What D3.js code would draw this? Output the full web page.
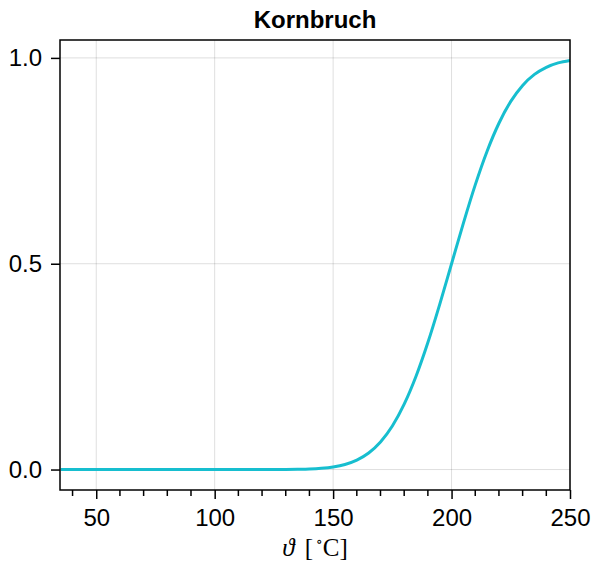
<!DOCTYPE html>
<html><head><meta charset="utf-8">
<script src="https://cdn.jsdelivr.net/npm/d3@7"></script>
<style>body{margin:0;background:#fff}svg{display:block}</style>
</head><body>
<svg id="chart" width="593" height="567"></svg>
<script>
const title = "Kornbruch";
const temps = [35,40,45,50,55,60,65,70,75,80,85,90,95,100,105,110,115,120,125,130,135,140,145,150,155,160,165,170,175,180,185,190,195,200,205,210,215,220,225,230,235,240,245,250];
const fraction = [0,0,0,0,0,0,0,0,0,0,0,0,0,0,0,0,0,0,0.0001,0.0002,0.0006,0.0013,0.003,0.0062,0.0122,0.0228,0.0401,0.0668,0.1056,0.1587,0.2266,0.3085,0.4013,0.5,0.5987,0.6915,0.7734,0.8413,0.8944,0.9332,0.9599,0.9772,0.9878,0.9938];
const xTicks = [50,100,150,200,250];
const xMinorTicks = [40,60,70,80,90,110,120,130,140,160,170,180,190,210,220,230,240];
const yTicks = [0.0,0.5,1.0];

const svg = d3.select("#chart");
const L = 60, R = 570, T = 40, B = 490;
const x = d3.scaleLinear().domain([34.7, 250]).range([L, R]);
const y = d3.scaleLinear().domain([-0.0497, 1.0435]).range([B, T]);
const font = "'Liberation Sans', Arial, Helvetica, sans-serif";

// grid
svg.append("g").selectAll("line").data(xTicks).join("line")
  .attr("x1", d => x(d)).attr("x2", d => x(d)).attr("y1", T).attr("y2", B)
  .attr("stroke", "rgba(0,0,0,0.13)").attr("stroke-width", 1);
svg.append("g").selectAll("line").data(yTicks).join("line")
  .attr("y1", d => y(d)).attr("y2", d => y(d)).attr("x1", L).attr("x2", R)
  .attr("stroke", "rgba(0,0,0,0.13)").attr("stroke-width", 1);

// curve
const data = temps.map((t, i) => [t, fraction[i]]);
svg.append("path").datum(data)
  .attr("d", d3.line().x(d => x(d[0])).y(d => y(d[1])).curve(d3.curveMonotoneX))
  .attr("fill", "none").attr("stroke", "#17becf").attr("stroke-width", 3);

// frame
svg.append("rect").attr("x", L).attr("y", T).attr("width", R - L).attr("height", B - T)
  .attr("fill", "none").attr("stroke", "#000").attr("stroke-width", 1.5);

// x axis
const xAxis = svg.append("g").attr("transform", `translate(0,${B})`)
  .call(d3.axisBottom(x).tickValues(xTicks).tickSize(9).tickPadding(10).tickFormat(d3.format("d")));
xAxis.select(".domain").remove();
xAxis.selectAll(".tick line").attr("stroke", "#000").attr("stroke-width", 1.5);
xAxis.selectAll("text").attr("font-family", font).attr("font-size", 24).attr("fill", "#000");
svg.append("g").attr("transform", `translate(0,${B})`).selectAll("line").data(xMinorTicks).join("line")
  .attr("x1", d => x(d)).attr("x2", d => x(d)).attr("y1", 0).attr("y2", 6)
  .attr("stroke", "#000").attr("stroke-width", 1.5);

// y axis
const yAxis = svg.append("g").attr("transform", `translate(${L},0)`)
  .call(d3.axisLeft(y).tickValues(yTicks).tickSize(9).tickPadding(9).tickFormat(d3.format(".1f")));
yAxis.select(".domain").remove();
yAxis.selectAll(".tick line").attr("stroke", "#000").attr("stroke-width", 1.5);
yAxis.selectAll("text").attr("font-family", font).attr("font-size", 24).attr("fill", "#000");

// title
svg.append("text").attr("x", (L + R) / 2).attr("y", 28).attr("text-anchor", "middle")
  .attr("font-family", font).attr("font-weight", "bold").attr("font-size", 24).text(title);

// x label
const xl = svg.append("text").attr("x", (L + R) / 2).attr("y", 556).attr("text-anchor", "middle")
  .attr("font-family", "'Liberation Serif', 'DejaVu Serif', serif").attr("font-size", 25);
xl.append("tspan").attr("font-style", "italic").text("ϑ");
xl.append("tspan").attr("dx", 4).text(" [");
xl.append("tspan").attr("font-size", 14).attr("dx", 3).attr("dy", -10).text("∘");
xl.append("tspan").attr("dy", 10).text("C]");
</script>
</body></html>
